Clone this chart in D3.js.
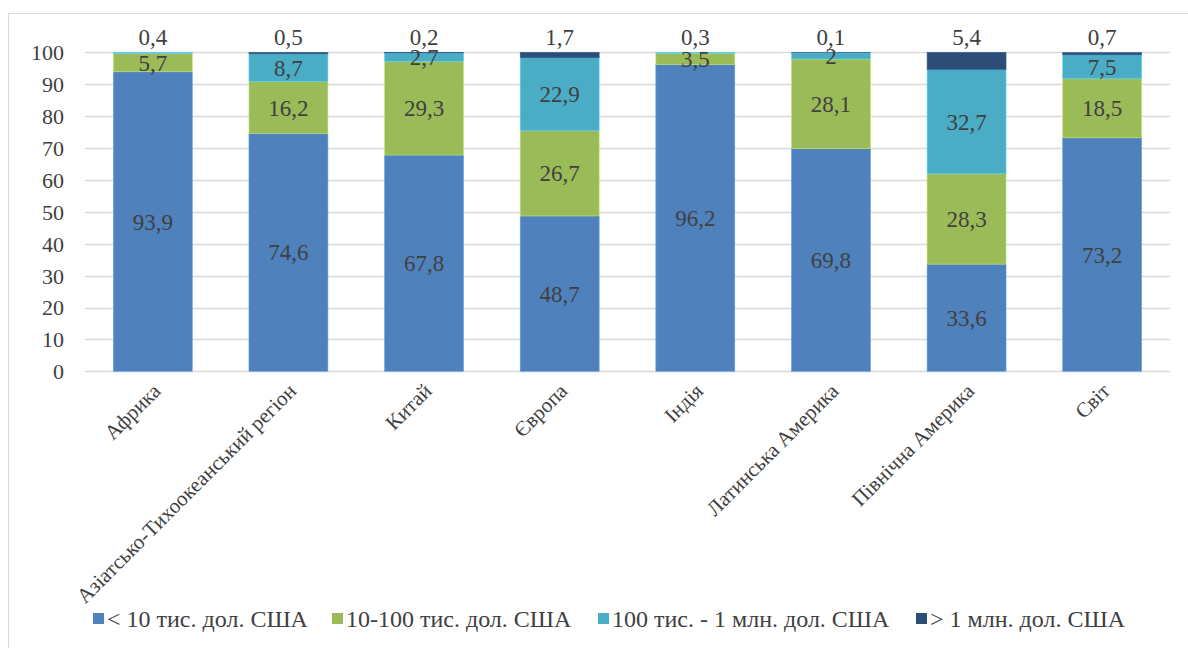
<!DOCTYPE html>
<html>
<head>
<meta charset="utf-8">
<script src="https://cdn.jsdelivr.net/npm/d3@7"></script>
</head>
<body style="margin:0">
<svg id="chart" width="1188" height="648"></svg>
<script>
// Regions and the share of wallets in each wealth band (%)
const categories = ["Африка", "Азіатсько-Тихоокеанський регіон", "Китай", "Європа", "Індія", "Латинська Америка", "Північна Америка", "Світ"];
const seriesNames = ["< 10 тис. дол. США", "10-100 тис. дол. США", "100 тис. - 1 млн. дол. США", "> 1 млн. дол. США"];
const under10k     = [93.9, 74.6, 67.8, 48.7, 96.2, 69.8, 33.6, 73.2];
const from10to100k = [5.7, 16.2, 29.3, 26.7, 3.5, 28.1, 28.3, 18.5];
const from100kto1m = [0.4, 8.7, 2.7, 22.9, 0.3, 2, 32.7, 7.5];
const over1m       = [0, 0.5, 0.2, 1.7, 0, 0.1, 5.4, 0.7];
const yTicks = [0, 10, 20, 30, 40, 50, 60, 70, 80, 90, 100];
const colors = ["#4F81BD", "#9BBB59", "#4BACC6", "#2C4D75"];
const FONT = "Liberation Serif";
const TEXT = "#404040";

const seriesValues = [under10k, from10to100k, from100kto1m, over1m];
const rows = categories.map((c, i) => {
  const r = { cat: c };
  seriesNames.forEach((s, k) => r[s] = seriesValues[k][i]);
  return r;
});

const svg = d3.select("#chart");
const W = 1188, H = 648;
const margin = { left: 85, right: 18, top: 52.3, bottom: 276.7 };

// Chart frame
svg.append("rect")
  .attr("x", 8.5).attr("y", 13.5)
  .attr("width", W + 20).attr("height", H + 20)
  .attr("fill", "none").attr("stroke", "#d9d9d9").attr("stroke-width", 1);

const x = d3.scaleBand().domain(categories)
  .range([margin.left, W - margin.right]).paddingInner(0.418).paddingOuter(0.209);
const y = d3.scaleLinear().domain([0, 100]).range([H - margin.bottom, margin.top]);

// Gridlines
svg.append("g").selectAll("line").data(yTicks).join("line")
  .attr("x1", margin.left).attr("x2", W - margin.right)
  .attr("y1", d => Math.round(y(d)) + 0.5).attr("y2", d => Math.round(y(d)) + 0.5)
  .attr("stroke", "#d9d9d9").attr("stroke-width", 1.3);

// Y axis labels
const yAxis = d3.axisLeft(y).tickValues(yTicks).tickSize(0).tickPadding(0);
const yg = svg.append("g").attr("transform", `translate(${margin.left - 21},0)`).call(yAxis);
yg.select(".domain").remove();
yg.selectAll("text")
  .attr("font-size", 22).style("font-family", FONT)
  .attr("fill", TEXT).attr("dy", "0.34em");

// Stacked bars
const stack = d3.stack().keys(seriesNames);
const layers = stack(rows);

const gBars = svg.append("g");
layers.forEach((layer, k) => {
  gBars.append("g").selectAll("rect").data(layer).join("rect")
    .attr("x", d => x(d.data.cat))
    .attr("width", x.bandwidth())
    .attr("y", d => y(d[1]))
    .attr("height", d => Math.max(0, y(d[0]) - y(d[1])))
    .attr("fill", colors[k])
    .attr("stroke", d3.color(colors[k]).brighter(0.6))
    .attr("stroke-width", 0.6);
});

// Value labels: inner segments centred, the topmost small segment written above the bar
const fmt = v => String(v).replace(".", ",");
const gLab = svg.append("g");
const label = (xPos, yPos) => gLab.append("text")
  .attr("x", xPos).attr("y", yPos)
  .attr("font-size", 23).style("font-family", FONT)
  .attr("fill", TEXT).attr("text-anchor", "middle");
categories.forEach((c, i) => {
  let topK = -1;
  seriesValues.forEach((arr, k) => { if (arr[i] > 0) topK = k; });
  layers.forEach((layer, k) => {
    const d = layer[i];
    const v = seriesValues[k][i];
    if (v <= 0) return;
    const cx = x(c) + x.bandwidth() / 2;
    if (k === topK && k >= 2 && (k === 3 || v < 1)) {
      label(cx, y(100) - 7).text(fmt(v));
    } else {
      label(cx, (y(d[0]) + y(d[1])) / 2).attr("dy", "0.35em").text(fmt(v));
    }
  });
});

// Category labels, rotated
const gCat = svg.append("g");
categories.forEach(c => {
  const cx = x(c) + x.bandwidth() / 2 + 9;
  const cy = y(0) + 21;
  gCat.append("text")
    .attr("transform", `translate(${cx},${cy}) rotate(-45)`)
    .attr("text-anchor", "end")
    .attr("font-size", 21).style("font-family", FONT)
    .attr("fill", TEXT)
    .text(c);
});

// Legend
const legendX = [93, 332, 598, 916];
const gLeg = svg.append("g");
seriesNames.forEach((name, k) => {
  gLeg.append("rect").attr("x", legendX[k]).attr("y", 613).attr("width", 11).attr("height", 11).attr("fill", colors[k]);
  gLeg.append("text").attr("x", legendX[k] + 14).attr("y", 627)
    .attr("font-size", 24).style("font-family", FONT)
    .attr("fill", TEXT).text(name);
});
</script>
</body>
</html>
